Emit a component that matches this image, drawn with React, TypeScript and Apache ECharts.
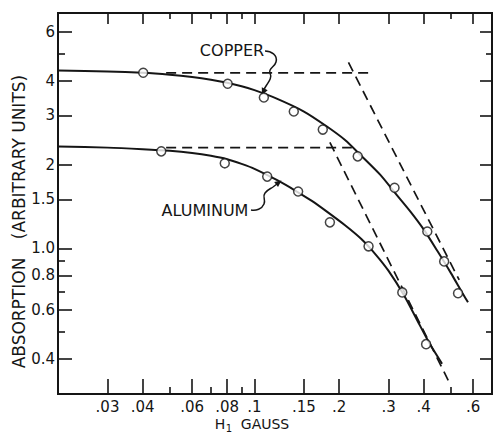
import React, { useEffect, useRef } from 'react';
import * as echarts from 'echarts';

// Axis ranges and tick marks (values in gauss / arbitrary units)
const xRange = [0.02, 0.7];
const yRange = [0.3, 7];
const xMajorTicks = [0.03, 0.04, 0.06, 0.08, 0.1, 0.15, 0.2, 0.3, 0.4, 0.6];
const xMajorLabels = ['.03', '.04', '.06', '.08', '.1', '.15', '.2', '.3', '.4', '.6'];
const xMinorTicks = [0.05, 0.07, 0.09, 0.5];
const yMajorTicks = [0.4, 0.6, 0.8, 1.0, 1.5, 2, 3, 4, 6];
const yMajorLabels = ['0.4', '0.6', '0.8', '1.0', '1.5', '2', '3', '4', '6'];
const yMinorTicks = [0.5, 0.7, 0.9, 5];

// Measured points (open circles)
const copperH = [0.0402, 0.0803, 0.108, 0.138, 0.175, 0.233, 0.315, 0.412, 0.473, 0.53];
const copperA = [4.27, 3.9, 3.48, 3.1, 2.67, 2.14, 1.65, 1.15, 0.898, 0.69];
const aluminumH = [0.0466, 0.0784, 0.111, 0.143, 0.1855, 0.2546, 0.3357, 0.408];
const aluminumA = [2.23, 2.02, 1.81, 1.6, 1.24, 1.017, 0.695, 0.453];

// Drawn solid curves
const copperCurveH = [0.02, 0.03, 0.04, 0.05, 0.06, 0.07, 0.08, 0.09, 0.1, 0.12, 0.15, 0.18, 0.21, 0.24, 0.28, 0.32, 0.36, 0.4, 0.45, 0.5, 0.55, 0.575];
const copperCurveA = [4.35, 4.32, 4.27, 4.2, 4.12, 4.03, 3.93, 3.82, 3.7, 3.45, 3.1, 2.75, 2.45, 2.15, 1.84, 1.56, 1.35, 1.17, 0.97, 0.815, 0.69, 0.64];
const aluminumCurveH = [0.02, 0.03, 0.04, 0.05, 0.06, 0.07, 0.08, 0.09, 0.1, 0.12, 0.14, 0.16, 0.18, 0.21, 0.24, 0.27, 0.3, 0.34, 0.38, 0.42, 0.465];
const aluminumCurveA = [2.32, 2.3, 2.27, 2.24, 2.2, 2.15, 2.09, 2.01, 1.93, 1.76, 1.61, 1.48, 1.36, 1.21, 1.08, 0.95, 0.83, 0.68, 0.55, 0.455, 0.385];

// Dashed asymptotes
const copperLevelH = [0.0485, 0.261];
const copperLevelA = [4.27, 4.27];
const copperSlopeH = [0.216, 0.535];
const copperSlopeA = [4.65, 0.77];
const aluminumLevelH = [0.0485, 0.222];
const aluminumLevelA = [2.3, 2.3];
const aluminumSlopeH = [0.1855, 0.489];
const aluminumSlopeA = [2.4, 0.336];

echarts.graphic.registerShape(
  'copperArrow',
  echarts.graphic.extendPath('M265,51 C271,51 278,55 276,62 C275,67 268,68 270,73 C272,77 270,80 266,86 L263,91', {})
);
echarts.graphic.registerShape(
  'aluminumArrow',
  echarts.graphic.extendPath('M251,210 C256,211 262,209 264,204 C266,199 262,197 265,193 C267,190 270,189 273,187 L277,184', {})
);

const INK = '#151515';
const FONT = 'DejaVu Sans';
const lg = (v: number) => Math.log10(v);
const zip = (a: number[], b: number[]) => a.map((v, i) => [v, b[i]]);

function frameAxis(
  dim: 'x' | 'y',
  position: string,
  range: number[],
  ticks: number[],
  len: number,
  showLine: boolean,
  labels?: string[]
) {
  const tv = ticks.map(lg);
  return {
    type: 'value',
    position,
    min: lg(range[0]),
    max: lg(range[1]),
    axisLine: { show: showLine, onZero: false, lineStyle: { color: INK, width: 2, cap: 'square' } },
    axisTick: { show: true, inside: true, length: len, customValues: tv, lineStyle: { color: INK, width: 1.6 } },
    axisLabel: labels
      ? {
          show: true,
          customValues: tv,
          formatter: (v: number) => {
            let best = 0;
            tv.forEach((t, i) => {
              if (Math.abs(t - v) < Math.abs(tv[best] - v)) best = i;
            });
            return labels[best];
          },
          margin: dim === 'x' ? 6 : 3,
          fontSize: 15,
          lineHeight: 13,
          fontFamily: FONT,
          color: INK,
        }
      : { show: false },
    splitLine: { show: false },
    minorTick: { show: false },
  };
}

export default function App() {
  const ref = useRef<HTMLDivElement>(null);
  useEffect(() => {
    if (!ref.current) return;
    const chart = echarts.init(ref.current, null, { renderer: 'svg' });
    const solid = { color: INK, width: 2 };
    const dashed = { color: INK, width: 1.7, type: [10, 6] };
    const lineSeries = (data: number[][], style: any, z: number, smooth: number | boolean) => ({
      type: 'line',
      data,
      xAxisIndex: 0,
      yAxisIndex: 0,
      showSymbol: false,
      symbol: 'none',
      smooth,
      lineStyle: style,
      z,
      silent: true,
    });
    const pointSeries = (data: number[][]) => ({
      type: 'scatter',
      data,
      xAxisIndex: 0,
      yAxisIndex: 0,
      symbol: 'circle',
      symbolSize: 9,
      itemStyle: { color: '#fff', borderColor: INK, borderWidth: 1.5 },
      z: 6,
      silent: true,
    });
    const text = (t: string, x: number, y: number, size: number, rot = 0) => ({
      type: 'text', x, y, rotation: rot, silent: true,
      style: { text: t, fontSize: size, lineHeight: 12, fontFamily: FONT, fill: INK, align: 'center', verticalAlign: 'middle' },
    });
    chart.setOption({
      animation: false,
      backgroundColor: '#ffffff',
      grid: { left: 58, right: 2, top: 13, bottom: 42, containLabel: false, outerBoundsMode: 'none' },
      xAxis: [
        { type: 'log', logBase: 10, min: xRange[0], max: xRange[1], show: false, splitLine: { show: false } },
        frameAxis('x', 'bottom', xRange, xMajorTicks, 15, true, xMajorLabels),
        frameAxis('x', 'bottom', xRange, xMinorTicks, 7, false),
        frameAxis('x', 'top', xRange, xMajorTicks, 11, true),
        frameAxis('x', 'top', xRange, xMinorTicks, 6, false),
      ],
      yAxis: [
        { type: 'log', logBase: 10, min: yRange[0], max: yRange[1], show: false, splitLine: { show: false } },
        frameAxis('y', 'left', yRange, yMajorTicks, 14, true, yMajorLabels),
        frameAxis('y', 'left', yRange, yMinorTicks, 7, false),
        frameAxis('y', 'right', yRange, yMajorTicks, 12, true),
        frameAxis('y', 'right', yRange, yMinorTicks, 6, false),
      ],
      series: [
        lineSeries(zip(copperLevelH, copperLevelA), dashed, 2, false),
        lineSeries(zip(copperSlopeH, copperSlopeA), dashed, 2, false),
        lineSeries(zip(aluminumLevelH, aluminumLevelA), dashed, 2, false),
        lineSeries(zip(aluminumSlopeH, aluminumSlopeA), dashed, 2, false),
        lineSeries(zip(copperCurveH, copperCurveA), solid, 4, 0.25),
        lineSeries(zip(aluminumCurveH, aluminumCurveA), solid, 4, 0.25),
        pointSeries(zip(copperH, copperA)),
        pointSeries(zip(aluminumH, aluminumA)),
      ],
      graphic: [
        text('ABSORPTION', 19, 313, 17, Math.PI / 2),
        text('(ARBITRARY UNITS)', 19, 157, 17, Math.PI / 2),
        text('H', 220, 424, 14),
        text('1', 229, 428, 10),
        text('GAUSS', 265, 424, 14),
        text('COPPER', 232, 50, 16),
        text('ALUMINUM', 205, 210, 16),
        { type: 'copperArrow', x: 0, y: 0, silent: true, style: { stroke: INK, fill: 'none', lineWidth: 1.5 } },
        { type: 'aluminumArrow', x: 0, y: 0, silent: true, style: { stroke: INK, fill: 'none', lineWidth: 1.5 } },
        {
          type: 'polygon', silent: true,
          shape: { points: [[262, 95], [267.7, 90.3], [261.8, 87.3]] },
          style: { fill: INK },
        },
        {
          type: 'polygon', silent: true,
          shape: { points: [[281.5, 180.5], [278, 187], [274.2, 182]] },
          style: { fill: INK },
        },
      ],
    });
    return () => chart.dispose();
  }, []);
  return <div ref={ref} style={{ position: 'fixed', left: 0, top: 0, width: 494, height: 436, background: '#fff' }} />;
}
